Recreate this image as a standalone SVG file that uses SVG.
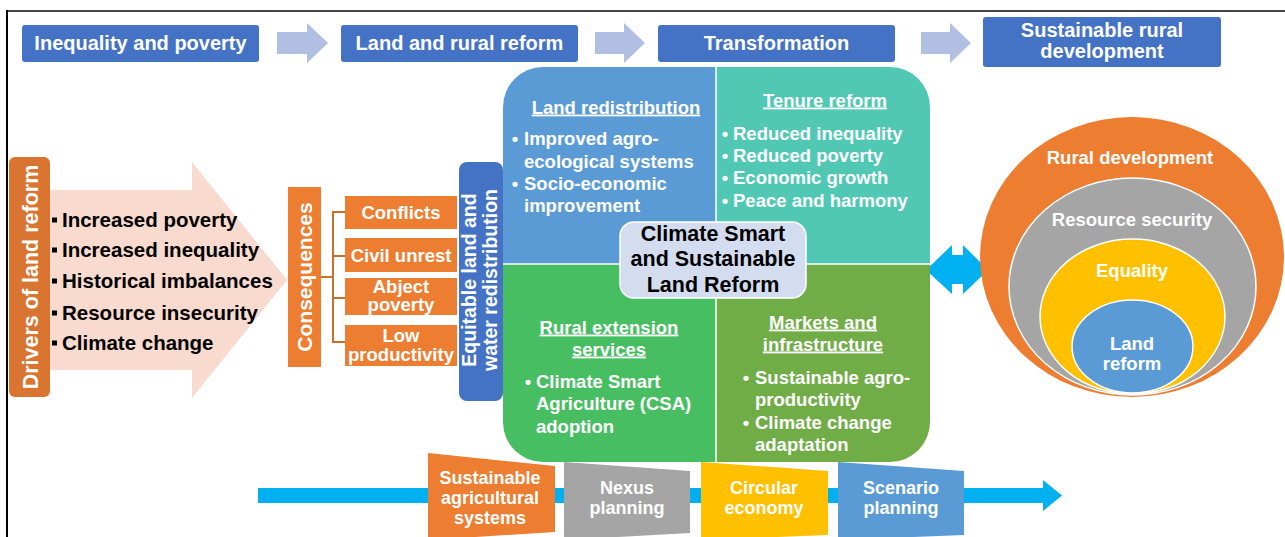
<svg xmlns="http://www.w3.org/2000/svg" width="1285" height="537" viewBox="0 0 1285 537">
<defs>
<style>
text{font-family:"Liberation Sans",Arial,Helvetica,sans-serif;font-weight:bold}
.top{font-size:20px;fill:#fff;text-anchor:middle}
.topbox{fill:#4472C4}
.tarrow{fill:#B0BFE2}
.drv{font-size:20.5px;fill:#000}
.sq{fill:#000}
.cons{font-size:18.5px;fill:#fff;text-anchor:middle}
.obox{fill:#ED7D31}
.q{font-size:18.5px;fill:#fff}
.qd{font-size:18.5px;fill:#fff;text-anchor:middle}
.qh{font-size:18.5px;fill:#fff;text-anchor:middle;text-decoration:underline}
.ctr{font-size:21.5px;fill:#000;text-anchor:middle}
.ring{font-size:18.5px;fill:#fff;text-anchor:middle}
.bot{font-size:18px;fill:#fff;text-anchor:middle}
.vt{fill:#fff;text-anchor:middle}
.brk{stroke:#C8702F;stroke-width:2;fill:none}
.cyan{fill:#00B0F0}
</style>
<clipPath id="blockClip"><rect x="503" y="67" width="427" height="395" rx="40" ry="40"/></clipPath>
</defs>
<rect x="0" y="0" width="1285" height="537" fill="#fff"/>
<g id="frame">
<line x1="6" y1="11" x2="1285" y2="11" stroke="#444" stroke-width="2"/>
<line x1="7" y1="10" x2="7" y2="537" stroke="#000" stroke-width="2"/>
</g>

<g id="connectors">
<polygon class="tarrow" points="277,32 307,32 307,23 328,43 307,63 307,54 277,54"/>
<polygon class="tarrow" points="595,32 624,32 624,23 645,43 624,63 624,54 595,54"/>
<polygon class="tarrow" points="921,32 950,32 950,23 971,43 950,63 950,54 921,54"/>
<polygon points="50,190 192,190 192,162 287,280 192,398 192,370 50,370" fill="#F9DACE"/>
<path class="brk" d="M321,277 H333 M345,212 H333 V342 H345 M333,256 H345 M333,298 H345"/>
<polygon class="cyan" points="926,270 952,245 952,255 963,255 963,245 988,270 963,294 963,284 952,284 952,294"/>
<polygon class="cyan" points="258,488 1043,488 1043,480 1062,495.5 1043,511 1043,503 258,503"/>
</g>

<g id="n-inequality">
<rect class="topbox" x="22" y="25" width="237" height="37" rx="3"/>
<text class="top" x="140.5" y="50">Inequality and poverty</text>
</g>
<g id="n-landrural">
<rect class="topbox" x="341" y="25" width="237" height="37" rx="3"/>
<text class="top" x="459.5" y="50">Land and rural reform</text>
</g>
<g id="n-transformation">
<rect class="topbox" x="658" y="25" width="237" height="37" rx="3"/>
<text class="top" x="776.5" y="50">Transformation</text>
</g>
<g id="n-sustainable">
<rect class="topbox" x="983" y="17" width="238" height="50" rx="3"/>
<text class="top" x="1102" y="37">Sustainable rural</text>
<text class="top" x="1102" y="57.5">development</text>
</g>

<g id="n-drivers">
<rect x="9" y="157" width="41" height="240" rx="6" fill="#DA7431"/>
<text class="vt" font-size="21.5" transform="translate(38,277) rotate(-90)">Drivers of land reform</text>
</g>
<g id="n-driverlist">
<rect class="sq" x="52" y="217.5" width="5" height="5"/>
<text class="drv" x="62" y="227">Increased poverty</text>
<rect class="sq" x="52" y="247.5" width="5" height="5"/>
<text class="drv" x="62" y="257">Increased inequality</text>
<rect class="sq" x="52" y="278.5" width="5" height="5"/>
<text class="drv" x="62" y="288">Historical imbalances</text>
<rect class="sq" x="52" y="310.5" width="5" height="5"/>
<text class="drv" x="62" y="320">Resource insecurity</text>
<rect class="sq" x="52" y="340.5" width="5" height="5"/>
<text class="drv" x="62" y="350">Climate change</text>
</g>

<g id="n-consequences">
<rect class="obox" x="288" y="187" width="33" height="180"/>
<text class="vt" font-size="21" transform="translate(312,277) rotate(-90)">Consequences</text>
</g>
<g id="n-conflicts">
<rect class="obox" x="345" y="196" width="112" height="33"/>
<text class="cons" x="401" y="219">Conflicts</text>
</g>
<g id="n-civil">
<rect class="obox" x="345" y="238" width="112" height="34"/>
<text class="cons" x="401" y="262">Civil unrest</text>
</g>
<g id="n-abject">
<rect class="obox" x="345" y="278" width="112" height="37"/>
<text class="cons" x="401" y="292.5">Abject</text>
<text class="cons" x="401" y="311">poverty</text>
</g>
<g id="n-low">
<rect class="obox" x="345" y="325" width="112" height="41"/>
<text class="cons" x="401" y="341.5">Low</text>
<text class="cons" x="401" y="360.5">productivity</text>
</g>

<g id="n-equitable">
<rect x="459" y="162" width="44" height="239" rx="8" fill="#4472C4"/>
<text class="vt" font-size="19.5" transform="translate(476,280) rotate(-90)">Equitable land and</text>
<text class="vt" font-size="19.5" transform="translate(497,280) rotate(-90)">water redistribution</text>
</g>

<g id="n-block">
<g clip-path="url(#blockClip)">
<rect x="503" y="67" width="213" height="197" fill="#5B9BD5"/>
<rect x="716" y="67" width="214" height="197" fill="#50C8B4"/>
<rect x="503" y="264" width="213" height="198" fill="#47BE62"/>
<rect x="716" y="264" width="214" height="198" fill="#70AD47"/>
</g>
<line x1="716" y1="67" x2="716" y2="462" stroke="#fff" stroke-width="1.5"/>
<line x1="503" y1="264" x2="930" y2="264" stroke="#fff" stroke-width="1.5"/>
</g>

<g id="n-landredistribution">
<text class="qh" x="616" y="113.5">Land redistribution</text>
<text class="qd" x="515" y="144.5">•</text>
<text class="q" x="524" y="144.5">Improved agro-</text>
<text class="q" x="524" y="167.5">ecological systems</text>
<text class="qd" x="515" y="189.5">•</text>
<text class="q" x="524" y="189.5">Socio-economic</text>
<text class="q" x="524" y="211.5">improvement</text>
</g>
<g id="n-tenure">
<text class="qh" x="825" y="106.5">Tenure reform</text>
<text class="qd" x="725" y="139.5">•</text>
<text class="q" x="733" y="139.5">Reduced inequality</text>
<text class="qd" x="725" y="161.5">•</text>
<text class="q" x="733" y="161.5">Reduced poverty</text>
<text class="qd" x="725" y="183.5">•</text>
<text class="q" x="733" y="183.5">Economic growth</text>
<text class="qd" x="725" y="206.5">•</text>
<text class="q" x="733" y="206.5">Peace and harmony</text>
</g>
<g id="n-extension">
<text class="qh" x="609" y="333.5">Rural extension</text>
<text class="qh" x="609" y="355.5">services</text>
<text class="qd" x="528" y="387.5">•</text>
<text class="q" x="536" y="387.5">Climate Smart</text>
<text class="q" x="536" y="409.5">Agriculture (CSA)</text>
<text class="q" x="536" y="432.5">adoption</text>
</g>
<g id="n-markets">
<text class="qh" x="823" y="328.5">Markets and</text>
<text class="qh" x="823" y="350.5">infrastructure</text>
<text class="qd" x="746" y="383.5">•</text>
<text class="q" x="755" y="383.5">Sustainable agro-</text>
<text class="q" x="755" y="405.5">productivity</text>
<text class="qd" x="746" y="428.5">•</text>
<text class="q" x="755" y="428.5">Climate change</text>
<text class="q" x="755" y="450.5">adaptation</text>
</g>
<g id="n-center">
<rect x="620" y="222" width="186" height="76" rx="14" fill="#D3DDEF" stroke="#fff" stroke-width="1.5"/>
<text class="ctr" x="713" y="240.5">Climate Smart</text>
<text class="ctr" x="713" y="265.5">and Sustainable</text>
<text class="ctr" x="713" y="291.5">Land Reform</text>
</g>

<g id="n-rings">
<ellipse cx="1132" cy="257" rx="152" ry="140" fill="#ED7D31"/>
<ellipse cx="1132.5" cy="286.5" rx="123.5" ry="108.5" fill="#A5A5A5" stroke="#fff" stroke-width="1.5"/>
<ellipse cx="1132.5" cy="316.5" rx="92.5" ry="77.5" fill="#FFC000" stroke="#fff" stroke-width="1.5"/>
<ellipse cx="1132.5" cy="346.5" rx="60.5" ry="46.5" fill="#5B9BD5" stroke="#fff" stroke-width="1.5"/>
<text class="ring" x="1130" y="163.5">Rural development</text>
<text class="ring" x="1132" y="225.5">Resource security</text>
<text class="ring" x="1132" y="276.5">Equality</text>
<text class="ring" x="1132" y="349.5">Land</text>
<text class="ring" x="1132" y="369.5">reform</text>
</g>

<g id="n-sas">
<polygon points="428,453 555,466 555,532 428,540" fill="#ED7D31"/>
<text class="bot" x="490" y="483.5">Sustainable</text>
<text class="bot" x="490" y="504">agricultural</text>
<text class="bot" x="490" y="524">systems</text>
</g>
<g id="n-nexus">
<polygon points="564,462 690,471 690,533 564,540" fill="#A5A5A5"/>
<text class="bot" x="627" y="493.5">Nexus</text>
<text class="bot" x="627" y="513.5">planning</text>
</g>
<g id="n-circular">
<polygon points="701,462 828,471 828,535 701,540" fill="#FFC000"/>
<text class="bot" x="764" y="493.5">Circular</text>
<text class="bot" x="764" y="513.5">economy</text>
</g>
<g id="n-scenario">
<polygon points="838,462 964,471 964,535 838,540" fill="#5B9BD5"/>
<text class="bot" x="901" y="493.5">Scenario</text>
<text class="bot" x="901" y="513.5">planning</text>
</g>
</svg>
